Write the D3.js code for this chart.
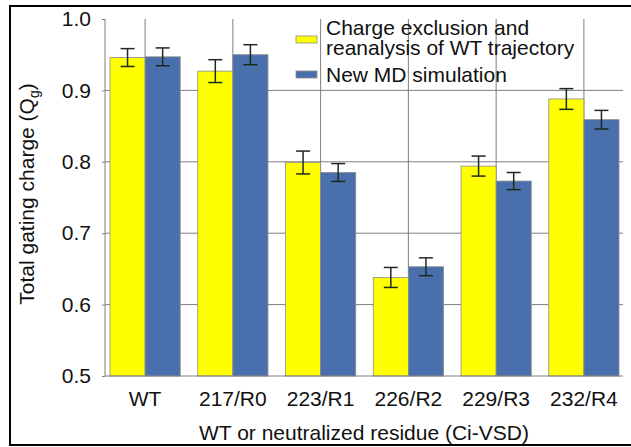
<!DOCTYPE html>
<html>
<head>
<meta charset="utf-8">
<title>Total gating charge</title>
<script src="https://d3js.org/d3.v7.min.js"></script>
<style>
    body{
        margin: 0;
        background: #fff;
    }
    svg text{
        font-family: "Liberation Sans", Arial, sans-serif;
        fill: #111;
    }
</style>
</head>
<body>
<svg id="chart" width="631" height="447"></svg>
<script>
    // data
    var categories = ["WT", "217/R0", "223/R1", "226/R2", "229/R3", "232/R4"];
    var seriesNames = ["Charge exclusion and reanalysis of WT trajectory", "New MD simulation"];
    var exclusionValues = [0.946, 0.927, 0.799, 0.638, 0.794, 0.888];
    var exclusionErrors = [0.0125, 0.016, 0.016, 0.014, 0.014, 0.0145];
    var mdValues = [0.947, 0.950, 0.785, 0.653, 0.773, 0.859];
    var mdErrors = [0.0125, 0.014, 0.0125, 0.0125, 0.012, 0.013];
    var yTicks = [0.5, 0.6, 0.7, 0.8, 0.9, 1.0];
    var colors = ["#ffff00", "#4a6fad"];

    var svg = d3.select("#chart");
    var fs = "21px";

    // outer frame
    svg.append("rect")
        .attr("x", 10).attr("y", 6)
        .attr("width", 640).attr("height", 439)
        .attr("fill", "none")
        .attr("stroke", "#000")
        .attr("stroke-width", 2);

    var plotLeft = 105, plotRight = 623, plotTop = 19, plotBottom = 376;

    var y = d3.scaleLinear().domain([0.5, 1.0]).range([plotBottom, plotTop]);
    var x = d3.scaleBand().domain(categories).range([110, 619]).paddingInner(0.2).paddingOuter(0);
    var xs = d3.scaleBand().domain([0, 1]).range([0, x.bandwidth()]);

    // horizontal grid
    svg.append("g").selectAll("line")
        .data(yTicks.filter(function(t){ return t > 0.5 && t < 1.0; }))
        .enter().append("line")
        .attr("x1", plotLeft).attr("x2", plotRight)
        .attr("y1", function(d){ return y(d); })
        .attr("y2", function(d){ return y(d); })
        .attr("stroke", "#7f7f7f").attr("stroke-width", 1);

    // vertical grid at category centres
    svg.append("g").selectAll("line")
        .data(categories)
        .enter().append("line")
        .attr("x1", function(d){ return x(d) + x.bandwidth() / 2; })
        .attr("x2", function(d){ return x(d) + x.bandwidth() / 2; })
        .attr("y1", plotTop).attr("y2", plotBottom)
        .attr("stroke", "#7f7f7f").attr("stroke-width", 1);

    var rows = categories.map(function(c, i){
        return {cat: c, vals: [exclusionValues[i], mdValues[i]], errs: [exclusionErrors[i], mdErrors[i]]};
    });

    var groups = svg.append("g").selectAll("g")
        .data(rows)
        .enter().append("g")
        .attr("transform", function(d){ return "translate(" + x(d.cat) + ",0)"; });

    groups.selectAll("rect")
        .data(function(d){ return d.vals.map(function(v, k){ return {k: k, v: v}; }); })
        .enter().append("rect")
        .attr("x", function(d){ return xs(d.k); })
        .attr("width", xs.bandwidth())
        .attr("y", function(d){ return y(d.v); })
        .attr("height", function(d){ return plotBottom - y(d.v); })
        .attr("fill", function(d){ return colors[d.k]; })
        .attr("stroke", "#8c8c8c")
        .attr("stroke-width", 0.8);

    // error bars
    var eb = groups.selectAll("g.err")
        .data(function(d){ return d.vals.map(function(v, k){ return {k: k, v: v, e: d.errs[k]}; }); })
        .enter().append("g").attr("class", "err")
        .attr("stroke", "#1c2a1c").attr("stroke-width", 1.5);
    function cx(d){ return xs(d.k) + xs.bandwidth() / 2; }
    eb.append("line")
        .attr("x1", cx).attr("x2", cx)
        .attr("y1", function(d){ return y(d.v + d.e); })
        .attr("y2", function(d){ return y(d.v - d.e); });
    eb.append("line")
        .attr("x1", function(d){ return cx(d) - 7; }).attr("x2", function(d){ return cx(d) + 7; })
        .attr("y1", function(d){ return y(d.v + d.e); })
        .attr("y2", function(d){ return y(d.v + d.e); });
    eb.append("line")
        .attr("x1", function(d){ return cx(d) - 7; }).attr("x2", function(d){ return cx(d) + 7; })
        .attr("y1", function(d){ return y(d.v - d.e); })
        .attr("y2", function(d){ return y(d.v - d.e); });

    // axes
    var yAxis = svg.append("g")
        .attr("transform", "translate(" + plotLeft + ",0)")
        .call(d3.axisLeft(y).tickValues(yTicks).tickFormat(d3.format(".1f")).tickSize(3).tickPadding(11));
    yAxis.select(".domain").attr("stroke", "#7f7f7f").attr("d", "M0," + plotTop + "V" + plotBottom);
    yAxis.selectAll(".tick line").attr("stroke", "#7f7f7f");
    yAxis.selectAll("text").style("font-size", fs).attr("fill", "#111");

    svg.append("line")
        .attr("x1", plotLeft).attr("x2", plotRight)
        .attr("y1", plotBottom).attr("y2", plotBottom)
        .attr("stroke", "#7f7f7f").attr("stroke-width", 1);

    svg.append("g").selectAll("text")
        .data(categories)
        .enter().append("text")
        .attr("x", function(d){ return x(d) + x.bandwidth() / 2; })
        .attr("y", 406)
        .attr("text-anchor", "middle")
        .style("font-size", fs)
        .text(function(d){ return d; });

    // axis titles
    svg.append("text")
        .attr("x", 364).attr("y", 440)
        .attr("text-anchor", "middle")
        .style("font-size", fs)
        .text("WT or neutralized residue (Ci-VSD)");

    var yt = svg.append("text")
        .attr("transform", "translate(34,194) rotate(-90)")
        .attr("text-anchor", "middle")
        .style("font-size", fs);
    yt.append("tspan").text("Total gating charge (Q");
    yt.append("tspan").attr("dy", 5).style("font-size", "14px").text("g");
    yt.append("tspan").attr("dy", -5).text(")");

    // legend
    var legend = svg.append("g");
    legend.append("rect").attr("x", 296).attr("y", 36).attr("width", 21).attr("height", 7)
        .attr("fill", colors[0]).attr("stroke", "#8c8c8c").attr("stroke-width", 0.8);
    legend.append("rect").attr("x", 296).attr("y", 71).attr("width", 21).attr("height", 7)
        .attr("fill", colors[1]).attr("stroke", "#8c8c8c").attr("stroke-width", 0.8);
    legend.append("text").attr("x", 326).attr("y", 35).style("font-size", fs).text("Charge exclusion and");
    legend.append("text").attr("x", 326).attr("y", 55).style("font-size", fs).text("reanalysis of WT trajectory");
    legend.append("text").attr("x", 326).attr("y", 82).style("font-size", fs).text(seriesNames[1]);
</script>
</body>
</html>
